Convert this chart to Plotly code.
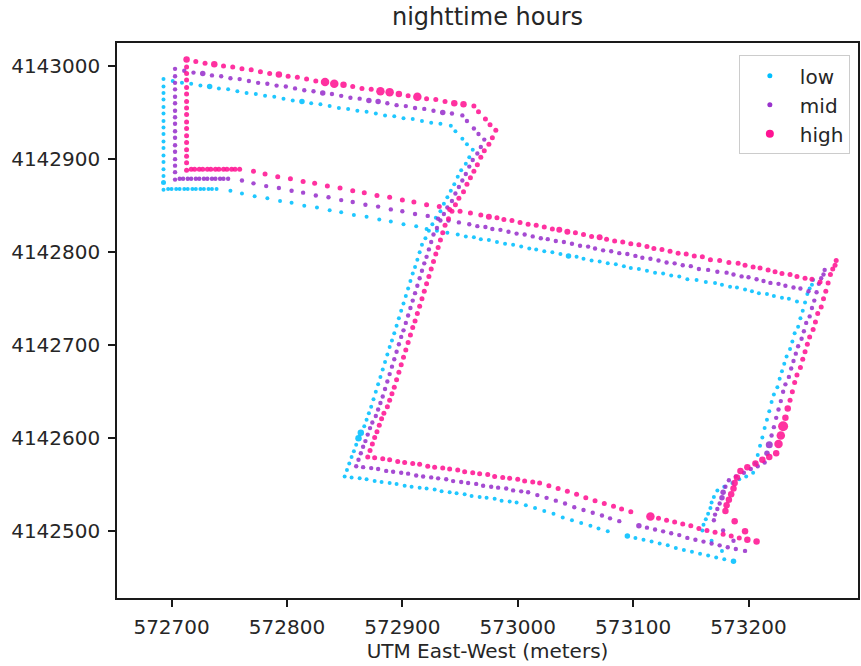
import plotly.graph_objects as go

# ---------------- data (UTM east / north, metres) ----------------
series_names = ["low", "mid", "high"]

high_east = [
    572713, 572713, 572713, 572713, 572713, 572713, 572713, 572713, 572713, 572713, 572713, 572713, 572713, 572713, 572713, 572713, 572713,
    572717, 572720, 572724, 572727, 572731, 572734, 572738, 572741, 572745, 572748, 572752, 572755, 572759,
    572721, 572729, 572737, 572745, 572753, 572761, 572769, 572777, 572785, 572793, 572801, 572809, 572817, 572825, 572833, 572841,
    572849, 572857, 572865, 572873, 572881, 572889, 572897, 572905, 572913, 572921, 572929, 572937, 572945, 572953, 572962,
    572966, 572972, 572976, 572981,
    572978, 572975, 572971, 572968, 572965, 572962, 572959, 572956, 572953, 572949, 572946, 572943, 572940, 572937,
    572935, 572933, 572931, 572929, 572927, 572925, 572923, 572921, 572919, 572917, 572915, 572913, 572911, 572909, 572907, 572905,
    572903, 572901, 572899, 572897, 572895, 572893, 572891,
    572889, 572887, 572884, 572882, 572880, 572878, 572876, 572874, 572872, 572870,
    572876, 572883, 572889, 572896, 572902, 572909, 572915, 572922, 572928, 572935, 572941, 572948, 572954, 572961, 572967, 572974,
    572980, 572987, 572993, 573000, 573006, 573013, 573019,
    573027, 573035, 573043, 573051, 573059, 573067, 573075, 573083, 573090, 573098,
    573115, 573122, 573129, 573136, 573143, 573150, 573157, 573164, 573171, 573178, 573185, 573192, 573199, 573207,
    573188, 573197,
    573180, 573181, 573183, 573185, 573187, 573188, 573190,
    573193, 573199, 573206, 573212, 573218, 573224,
    573226, 573228, 573230, 573232, 573234, 573236, 573238, 573240, 573242, 573245, 573247, 573249, 573251, 573253, 573256, 573258,
    573260, 573263, 573265, 573267, 573269, 573271, 573273, 573275, 573276,
    573160, 573167, 573175, 573183, 573191, 573197, 573204, 573210, 573217, 573223, 573229, 573236, 573242, 573249, 573255, 573262,
    572968, 572975, 572982, 572988, 572995, 573002, 573009, 573016, 573023, 573030, 573036, 573043, 573050, 573057, 573064, 573071,
    573077, 573084, 573091, 573098, 573105, 573112, 573118, 573125, 573132, 573139, 573146, 573153,
    572771, 572781, 572792, 572803, 572814, 572824, 572835, 572846, 572857, 572867, 572878, 572889, 572900, 572910, 572921, 572932,
    572941, 572950, 572959,
]
high_north = [
    4143007, 4142999, 4142992, 4142985, 4142977, 4142970, 4142962, 4142955, 4142948, 4142940, 4142933, 4142925, 4142918, 4142910, 4142903, 4142896, 4142888,
    4142889, 4142889, 4142889, 4142889, 4142889, 4142889, 4142889, 4142889, 4142889, 4142889, 4142889, 4142889, 4142889,
    4143005, 4143003, 4143002, 4143000, 4142999, 4142997, 4142996, 4142994, 4142992, 4142991, 4142989, 4142988, 4142986, 4142984, 4142983, 4142981,
    4142980, 4142978, 4142976, 4142975, 4142973, 4142972, 4142970, 4142968, 4142967, 4142965, 4142964, 4142962, 4142960, 4142959, 4142957,
    4142951, 4142943, 4142937, 4142931,
    4142923, 4142916, 4142909, 4142902, 4142894, 4142887, 4142880, 4142873, 4142865, 4142858, 4142851, 4142844, 4142836, 4142829,
    4142821, 4142813, 4142805, 4142798, 4142790, 4142782, 4142774, 4142766, 4142758, 4142750, 4142742, 4142734, 4142726, 4142719, 4142711, 4142703,
    4142695, 4142687, 4142679, 4142671, 4142663, 4142655, 4142648,
    4142641, 4142634, 4142627, 4142621, 4142614, 4142607, 4142601, 4142594, 4142587, 4142580,
    4142579, 4142578, 4142577, 4142575, 4142574, 4142573, 4142572, 4142570, 4142569, 4142568, 4142567, 4142566, 4142564, 4142563, 4142562, 4142561,
    4142559, 4142558, 4142557, 4142556, 4142554, 4142553, 4142552,
    4142549, 4142546, 4142543, 4142540, 4142536, 4142533, 4142530, 4142527, 4142524, 4142521,
    4142516, 4142514, 4142512, 4142510, 4142508, 4142506, 4142503, 4142501, 4142499, 4142497, 4142495, 4142493, 4142491, 4142489,
    4142511, 4142500,
    4142522, 4142528, 4142534, 4142540, 4142546, 4142552, 4142558,
    4142565, 4142569, 4142573, 4142577, 4142580, 4142584,
    4142594, 4142603, 4142613, 4142622, 4142632, 4142641, 4142650, 4142660, 4142668, 4142676, 4142685, 4142693, 4142701, 4142709, 4142717, 4142725,
    4142734, 4142741, 4142750, 4142758, 4142767, 4142776, 4142782, 4142786, 4142791,
    4142795, 4142792, 4142791, 4142789, 4142788, 4142786, 4142784, 4142783, 4142781, 4142779, 4142777, 4142776, 4142774, 4142772, 4142771, 4142768,
    4142840, 4142838, 4142837, 4142835, 4142834, 4142832, 4142830, 4142829, 4142827, 4142825, 4142824, 4142822, 4142821, 4142819, 4142817, 4142816,
    4142814, 4142812, 4142811, 4142809, 4142808, 4142806, 4142804, 4142803, 4142801, 4142799, 4142798, 4142796,
    4142887, 4142884, 4142881, 4142879, 4142876, 4142874, 4142871, 4142869, 4142866, 4142864, 4142861, 4142859, 4142856, 4142854, 4142851, 4142849,
    4142846, 4142844, 4142842,
]

mid_east = [
    572703, 572703, 572703, 572703, 572703, 572703, 572703, 572703, 572703, 572703, 572703, 572703, 572703, 572703, 572703, 572703, 572703,
    572707, 572710, 572714, 572717, 572721, 572724, 572728, 572731, 572735, 572738, 572742, 572745, 572749,
    572711, 572719, 572727, 572735, 572743, 572751, 572759, 572767, 572775, 572783, 572791, 572799, 572807, 572815, 572823, 572831,
    572839, 572847, 572855, 572863, 572871, 572879, 572887, 572895, 572903, 572911, 572919, 572927, 572935, 572943, 572952,
    572956, 572962, 572966, 572971,
    572968, 572965, 572961, 572958, 572955, 572952, 572949, 572946, 572943, 572939, 572936, 572933, 572930, 572927,
    572925, 572923, 572921, 572919, 572917, 572915, 572913, 572911, 572909, 572907, 572905, 572903, 572901, 572899, 572897, 572895,
    572893, 572891, 572889, 572887, 572885, 572883, 572881,
    572879, 572877, 572874, 572872, 572870, 572868, 572866, 572864, 572862, 572860,
    572866, 572873, 572879, 572886, 572892, 572899, 572905, 572912, 572918, 572925, 572931, 572938, 572944, 572951, 572957, 572964,
    572970, 572977, 572983, 572990, 572996, 573003, 573009,
    573017, 573025, 573033, 573041, 573049, 573057, 573065, 573073, 573080, 573088,
    573105, 573112, 573119, 573126, 573133, 573140, 573147, 573154, 573161, 573168, 573175, 573182, 573189, 573197,
    573178, 573187,
    573170, 573171, 573173, 573175, 573177, 573178, 573180,
    573183, 573189, 573196, 573202, 573208, 573214,
    573216, 573218, 573220, 573222, 573224, 573226, 573228, 573230, 573232, 573235, 573237, 573239, 573241, 573243, 573246, 573248,
    573250, 573253, 573255, 573257, 573259, 573261, 573263, 573265, 573266,
    573150, 573157, 573165, 573173, 573181, 573187, 573194, 573200, 573207, 573213, 573219, 573226, 573232, 573239, 573245, 573252,
    572958, 572965, 572972, 572978, 572985, 572992, 572999, 573006, 573013, 573020, 573026, 573033, 573040, 573047, 573054, 573061,
    573067, 573074, 573081, 573088, 573095, 573102, 573108, 573115, 573122, 573129, 573136, 573143,
    572761, 572771, 572782, 572793, 572804, 572814, 572825, 572836, 572847, 572857, 572868, 572879, 572890, 572900, 572911, 572922,
    572931, 572940, 572949,
]
mid_north = [
    4142997, 4142989, 4142982, 4142975, 4142967, 4142960, 4142952, 4142945, 4142938, 4142930, 4142923, 4142915, 4142908, 4142900, 4142893, 4142886, 4142878,
    4142879, 4142879, 4142879, 4142879, 4142879, 4142879, 4142879, 4142879, 4142879, 4142879, 4142879, 4142879, 4142879,
    4142995, 4142993, 4142992, 4142990, 4142989, 4142987, 4142986, 4142984, 4142982, 4142981, 4142979, 4142978, 4142976, 4142974, 4142973, 4142971,
    4142970, 4142968, 4142966, 4142965, 4142963, 4142962, 4142960, 4142958, 4142957, 4142955, 4142954, 4142952, 4142950, 4142949, 4142947,
    4142941, 4142933, 4142927, 4142921,
    4142913, 4142906, 4142899, 4142892, 4142884, 4142877, 4142870, 4142863, 4142855, 4142848, 4142841, 4142834, 4142826, 4142819,
    4142811, 4142803, 4142795, 4142788, 4142780, 4142772, 4142764, 4142756, 4142748, 4142740, 4142732, 4142724, 4142716, 4142709, 4142701, 4142693,
    4142685, 4142677, 4142669, 4142661, 4142653, 4142645, 4142638,
    4142631, 4142624, 4142617, 4142611, 4142604, 4142597, 4142591, 4142584, 4142577, 4142570,
    4142569, 4142568, 4142567, 4142565, 4142564, 4142563, 4142562, 4142560, 4142559, 4142558, 4142557, 4142556, 4142554, 4142553, 4142552, 4142551,
    4142549, 4142548, 4142547, 4142546, 4142544, 4142543, 4142542,
    4142539, 4142536, 4142533, 4142530, 4142526, 4142523, 4142520, 4142517, 4142514, 4142511,
    4142506, 4142504, 4142502, 4142500, 4142498, 4142496, 4142493, 4142491, 4142489, 4142487, 4142485, 4142483, 4142481, 4142479,
    4142501, 4142490,
    4142512, 4142518, 4142524, 4142530, 4142536, 4142542, 4142548,
    4142555, 4142559, 4142563, 4142567, 4142570, 4142574,
    4142584, 4142593, 4142603, 4142612, 4142622, 4142631, 4142640, 4142650, 4142658, 4142666, 4142675, 4142683, 4142691, 4142699, 4142707, 4142715,
    4142724, 4142731, 4142740, 4142748, 4142757, 4142766, 4142772, 4142776, 4142781,
    4142785, 4142782, 4142781, 4142779, 4142778, 4142776, 4142774, 4142773, 4142771, 4142769, 4142767, 4142766, 4142764, 4142762, 4142761, 4142758,
    4142830, 4142828, 4142827, 4142825, 4142824, 4142822, 4142820, 4142819, 4142817, 4142815, 4142814, 4142812, 4142811, 4142809, 4142807, 4142806,
    4142804, 4142802, 4142801, 4142799, 4142798, 4142796, 4142794, 4142793, 4142791, 4142789, 4142788, 4142786,
    4142877, 4142874, 4142871, 4142869, 4142866, 4142864, 4142861, 4142859, 4142856, 4142854, 4142851, 4142849, 4142846, 4142844, 4142841, 4142839,
    4142836, 4142834, 4142832,
]

low_east = [
    572693, 572693, 572693, 572693, 572693, 572693, 572693, 572693, 572693, 572693, 572693, 572693, 572693, 572693, 572693, 572693, 572693,
    572697, 572700, 572704, 572707, 572711, 572714, 572718, 572721, 572725, 572728, 572732, 572735, 572739,
    572701, 572709, 572717, 572725, 572733, 572741, 572749, 572757, 572765, 572773, 572781, 572789, 572797, 572805, 572813, 572821,
    572829, 572837, 572845, 572853, 572861, 572869, 572877, 572885, 572893, 572901, 572909, 572917, 572925, 572933, 572942,
    572946, 572952, 572956, 572961,
    572958, 572955, 572951, 572948, 572945, 572942, 572939, 572936, 572933, 572929, 572926, 572923, 572920, 572917,
    572915, 572913, 572911, 572909, 572907, 572905, 572903, 572901, 572899, 572897, 572895, 572893, 572891, 572889, 572887, 572885,
    572883, 572881, 572879, 572877, 572875, 572873, 572871,
    572869, 572867, 572864, 572862, 572860, 572858, 572856, 572854, 572852, 572850,
    572856, 572863, 572869, 572876, 572882, 572889, 572895, 572902, 572908, 572915, 572921, 572928, 572934, 572941, 572947, 572954,
    572960, 572967, 572973, 572980, 572986, 572993, 572999,
    573007, 573015, 573023, 573031, 573039, 573047, 573055, 573063, 573070, 573078,
    573095, 573102, 573109, 573116, 573123, 573130, 573137, 573144, 573151, 573158, 573165, 573172, 573179, 573187,
    573168, 573177,
    573160, 573161, 573163, 573165, 573167, 573168, 573170,
    573173, 573179, 573186, 573192, 573198, 573204,
    573206, 573208, 573210, 573212, 573214, 573216, 573218, 573220, 573222, 573225, 573227, 573229, 573231, 573233, 573236, 573238,
    573240, 573243, 573245, 573247, 573249, 573251, 573253, 573255, 573256,
    573140, 573147, 573155, 573163, 573171, 573177, 573184, 573190, 573197, 573203, 573209, 573216, 573222, 573229, 573235, 573242,
    572948, 572955, 572962, 572968, 572975, 572982, 572989, 572996, 573003, 573010, 573016, 573023, 573030, 573037, 573044, 573051,
    573057, 573064, 573071, 573078, 573085, 573092, 573098, 573105, 573112, 573119, 573126, 573133,
    572751, 572761, 572772, 572783, 572794, 572804, 572815, 572826, 572837, 572847, 572858, 572869, 572880, 572890, 572901, 572912,
    572921, 572930, 572939,
]
low_north = [
    4142986, 4142978, 4142971, 4142964, 4142956, 4142949, 4142941, 4142934, 4142927, 4142919, 4142912, 4142904, 4142897, 4142889, 4142882, 4142875, 4142867,
    4142868, 4142868, 4142868, 4142868, 4142868, 4142868, 4142868, 4142868, 4142868, 4142868, 4142868, 4142868, 4142868,
    4142984, 4142982, 4142981, 4142979, 4142978, 4142976, 4142975, 4142973, 4142971, 4142970, 4142968, 4142967, 4142965, 4142963, 4142962, 4142960,
    4142959, 4142957, 4142955, 4142954, 4142952, 4142951, 4142949, 4142947, 4142946, 4142944, 4142943, 4142941, 4142939, 4142938, 4142936,
    4142930, 4142922, 4142916, 4142910,
    4142902, 4142895, 4142888, 4142881, 4142873, 4142866, 4142859, 4142852, 4142844, 4142837, 4142830, 4142823, 4142815, 4142808,
    4142800, 4142792, 4142784, 4142777, 4142769, 4142761, 4142753, 4142745, 4142737, 4142729, 4142721, 4142713, 4142705, 4142698, 4142690, 4142682,
    4142674, 4142666, 4142658, 4142650, 4142642, 4142634, 4142627,
    4142620, 4142613, 4142606, 4142600, 4142593, 4142586, 4142580, 4142573, 4142566, 4142559,
    4142558, 4142557, 4142556, 4142554, 4142553, 4142552, 4142551, 4142549, 4142548, 4142547, 4142546, 4142545, 4142543, 4142542, 4142541, 4142540,
    4142538, 4142537, 4142536, 4142535, 4142533, 4142532, 4142531,
    4142528, 4142525, 4142522, 4142519, 4142515, 4142512, 4142509, 4142506, 4142503, 4142500,
    4142495, 4142493, 4142491, 4142489, 4142487, 4142485, 4142482, 4142480, 4142478, 4142476, 4142474, 4142472, 4142470, 4142468,
    4142490, 4142479,
    4142501, 4142507, 4142513, 4142519, 4142525, 4142531, 4142537,
    4142544, 4142548, 4142552, 4142556, 4142559, 4142563,
    4142573, 4142582, 4142592, 4142601, 4142611, 4142620, 4142629, 4142639, 4142647, 4142655, 4142664, 4142672, 4142680, 4142688, 4142696, 4142704,
    4142713, 4142720, 4142729, 4142737, 4142746, 4142755, 4142761, 4142765, 4142770,
    4142774, 4142771, 4142770, 4142768, 4142767, 4142765, 4142763, 4142762, 4142760, 4142758, 4142756, 4142755, 4142753, 4142751, 4142750, 4142747,
    4142819, 4142817, 4142816, 4142814, 4142813, 4142811, 4142809, 4142808, 4142806, 4142804, 4142803, 4142801, 4142800, 4142798, 4142796, 4142795,
    4142793, 4142791, 4142790, 4142788, 4142787, 4142785, 4142783, 4142782, 4142780, 4142778, 4142777, 4142775,
    4142866, 4142863, 4142860, 4142858, 4142855, 4142853, 4142850, 4142848, 4142845, 4142843, 4142840, 4142838, 4142835, 4142833, 4142830, 4142828,
    4142825, 4142823, 4142821,
]

x_ticks = [572700, 572800, 572900, 573000, 573100, 573200]
y_ticks = [4142500, 4142600, 4142700, 4142800, 4142900, 4143000]

# ---------------- styling ----------------
colors = {"low": "#00bfff", "mid": "#9932cc", "high": "#ff1493"}
base_size = {"low": 4.0, "mid": 4.4, "high": 5.0}
legend_size = {"low": 5, "mid": 5, "high": 8}
# emphasised (larger) dots: point index -> marker diameter
emphasis = {
    "low": {15: 5, 34: 5.5, 44: 5.5, 104: 6.5, 105: 6.5, 145: 5.5, 158: 5.5, 229: 5.5},
    "mid": {32: 5.5, 45: 5.5, 50: 5.5, 51: 5.5, 58: 5.5, 145: 5.5, 165: 5.5, 166: 5.5, 174: 5.5, 175: 7},
    "high": {0: 6.5, 32: 6.5, 39: 6.5, 44: 8.5, 45: 8.5, 46: 6.5, 50: 8.5, 51: 8.5, 52: 6.5, 54: 8.5,
             58: 6.5, 59: 6.5, 145: 8.5, 157: 6.5, 158: 6.5, 159: 6.5, 160: 6.5,
             161: 6.5, 162: 6.5, 163: 6.5, 164: 6.5, 165: 6.5, 166: 6.5, 167: 6.5,
             168: 6.5, 169: 6.5, 170: 6.5, 171: 6.5, 172: 6.5, 173: 6.5,
             174: 8.5, 175: 8.5, 176: 10, 177: 6.5, 178: 6.5, 216: 6, 225: 6, 226: 6, 230: 6},
}

data = {
    "low": (low_east, low_north),
    "mid": (mid_east, mid_north),
    "high": (high_east, high_north),
}

FONT = "DejaVu Sans, Liberation Sans, sans-serif"
fig = go.Figure()

for name in series_names:
    xs, ys = data[name]
    sizes = [emphasis[name].get(i, base_size[name]) for i in range(len(xs))]
    fig.add_trace(go.Scatter(
        x=xs, y=ys, mode="markers", name=name, showlegend=False,
        marker=dict(color=colors[name], size=sizes, opacity=0.88, line=dict(width=0)),
        hoverinfo="skip",
    ))

for name in series_names:
    fig.add_trace(go.Scatter(
        x=[None], y=[None], mode="markers", name=name,
        marker=dict(color=colors[name], size=legend_size[name], line=dict(width=0)),
    ))

axis_common = dict(
    showline=True, mirror=True, linecolor="#1a1a1a", linewidth=1.5,
    ticks="outside", ticklen=7, tickwidth=1.5, tickcolor="#1a1a1a",
    showgrid=False, zeroline=False, tickformat="d",
    tickfont=dict(family=FONT, size=20, color="#262626"),
)

fig.update_layout(
    width=861, height=666,
    margin=dict(l=117, r=1, t=43, b=68),
    paper_bgcolor="white", plot_bgcolor="white",
    font=dict(family=FONT, size=20, color="#262626"),
    title=dict(text="nighttime hours", x=0.5, xref="paper", xanchor="center",
               y=1, yref="paper", yanchor="bottom", pad=dict(b=18),
               font=dict(family=FONT, size=24, color="#262626")),
    xaxis=dict(range=[572652.7, 573294.9], tickvals=x_ticks, ticklabelstandoff=3,
               title=dict(text="UTM East-West (meters)", standoff=3,
                          font=dict(family=FONT, size=20, color="#262626")),
               **axis_common),
    yaxis=dict(range=[4142428.4, 4143024.8], tickvals=y_ticks, ticklabelstandoff=4,
               **axis_common),
    legend=dict(x=0.989, xanchor="right", y=0.978, yanchor="top",
                bgcolor="rgba(255,255,255,0.85)", bordercolor="#cccccc", borderwidth=1,
                font=dict(family=FONT, size=20, color="#262626"),
                itemwidth=50),
    showlegend=True,
)

fig.write_html("out.html")
